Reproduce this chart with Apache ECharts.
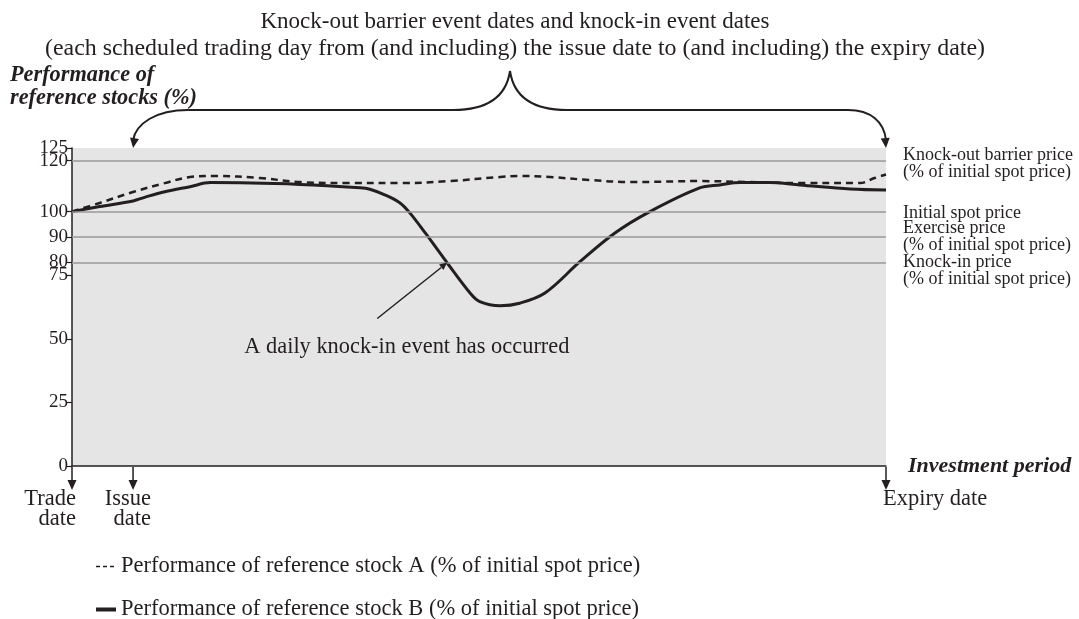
<!DOCTYPE html>
<html><head><meta charset="utf-8">
<script src="https://cdn.jsdelivr.net/npm/echarts@6/dist/echarts.min.js"></script>
<style>html,body{margin:0;padding:0;background:#fff}#c{width:1079px;height:619px}</style>
</head><body><div id="c"></div>
<script>
// ---- data ----
const titleLines = [
  'Knock-out barrier event dates and knock-in event dates',
  '(each scheduled trading day from (and including) the issue date to (and including) the expiry date)'
];
const yAxisTitle = ['Performance of', 'reference stocks (%)'];
const xAxisTitle = 'Investment period';
const yTicks = [0, 25, 50, 75, 80, 90, 100, 120];
const yTopTick = [125];
const levelValues = [120, 100, 90, 80];
const levelLabels = [
  'Knock-out barrier price\n(% of initial spot price)',
  'Initial spot price',
  'Exercise price\n(% of initial spot price)',
  'Knock-in price\n(% of initial spot price)'
];
const dateTimes = [0, 7.5, 100];
const dateLabels = ['Trade\ndate', 'Issue\ndate', 'Expiry date'];
const nameA = 'Performance of reference stock A (% of initial spot price)';
const nameB = 'Performance of reference stock B (% of initial spot price)';
const timeA = [0, 3.4, 7.5, 11.4, 14.5, 17.6, 23.1, 28, 34.2, 40.3, 46.4, 52.6, 55, 58.7, 63.6, 68.5, 77.1, 83.3, 89.4, 96.8, 98.6, 100];
const valuesA = [100, 103.4, 107.7, 111.2, 113.6, 114, 113.2, 111.6, 111.2, 111.2, 112, 113.6, 114, 113.6, 112.4, 111.6, 112, 111.6, 111.2, 111.2, 113.2, 114.6];
const timeB = [0, 3.4, 7.5, 9, 11.4, 14.5, 17, 28, 35.4, 36.6, 38.5, 40.3, 41.5, 43.4, 46.1, 48.9, 50.1, 52.6, 55, 58.1, 62.4, 66.7, 71, 77.1, 79.6, 82.1, 85.7, 89.4, 95.6, 100];
const valuesB = [100, 102, 104.2, 105.7, 107.8, 109.8, 111.4, 110.7, 109.4, 108.8, 106.5, 103.4, 99.5, 91.6, 79.8, 68, 64.6, 63, 64, 68, 80.3, 91.6, 100, 109.3, 110.5, 111.4, 111.4, 110.5, 108.9, 108.5];
const annotationText = 'A daily knock-in event has occurred';
const knockInPoint = [46.1, 80];
const braceFrom = 7.5, braceTo = 100;

// ---- chart ----
const FONT = '"Liberation Serif", "Times New Roman", serif';
const INK = '#231f20';
const zip = (xs, ys) => xs.map((x, i) => [x, ys[i]]);
const chart = echarts.init(document.getElementById('c'), null, {renderer: 'canvas'});

const yLabelStyle = {margin: 4, hideOverlap: false, fontFamily: FONT, fontSize: 19, color: INK};
chart.setOption({
  animation: false,
  backgroundColor: '#fff',
  title: {
    text: '{a|' + titleLines[0] + '}\n{b|' + titleLines[1] + '}', left: 510, top: 3, textAlign: 'center',
    textStyle: {
      fontFamily: FONT, fontWeight: 'normal', fontSize: 23, lineHeight: 27, color: INK,
      rich: {
        a: {fontFamily: FONT, fontSize: 23, lineHeight: 27, color: INK},
        b: {fontFamily: FONT, fontSize: 23.9, lineHeight: 27, color: INK}
      }
    }
  },
  grid: {left: 72, right: 193, top: 148, bottom: 153, show: true, backgroundColor: '#e5e5e5', borderWidth: 0},
  legend: {
    orient: 'vertical', left: 94, top: 555, height: 120, padding: 0, itemGap: 20, itemWidth: 20, itemHeight: 24,
    itemStyle: {opacity: 0},
    data: [
      {name: nameA, lineStyle: {type: [4, 3], width: 1.5}},
      {name: nameB, lineStyle: {width: 4}}
    ],
    textStyle: {fontFamily: FONT, fontSize: 22.5, color: INK}
  },
  xAxis: {
    type: 'value', min: 0, max: 100,
    name: xAxisTitle, nameLocation: 'end', nameGap: 22,
    nameTextStyle: {fontFamily: FONT, fontStyle: 'italic', fontWeight: 'bold', fontSize: 22, color: INK},
    axisLine: {lineStyle: {color: INK, width: 1.5}},
    axisTick: {show: false}, axisLabel: {show: false}, splitLine: {show: false}
  },
  yAxis: [
    {
      type: 'value', min: 0, max: 125,
      axisLine: {show: true, lineStyle: {color: INK, width: 1.5}},
      axisTick: {show: true, length: 5, customValues: yTicks, lineStyle: {color: INK, width: 1.2}},
      axisLabel: Object.assign({customValues: yTicks}, yLabelStyle),
      splitLine: {show: false}
    },
    {
      type: 'value', min: 0, max: 125, position: 'left', offset: 0,
      axisLine: {show: false},
      axisTick: {show: true, length: 5, customValues: yTopTick, lineStyle: {color: INK, width: 1.2}},
      axisLabel: Object.assign({customValues: yTopTick}, yLabelStyle),
      splitLine: {show: false}
    }
  ],
  series: [
    {
      name: 'levels', type: 'line', data: [], silent: true, z: 1,
      markLine: {
        silent: true, symbol: ['none', 'none'], label: {show: false},
        lineStyle: {color: '#999', width: 1.5, type: 'solid'},
        data: levelValues.map(v => ({yAxis: v}))
      }
    },
    {
      name: nameA, type: 'line', data: zip(timeA, valuesA), smooth: 0.35,
      showSymbol: false, symbol: 'none', z: 3,
      lineStyle: {color: INK, width: 2.5, type: [7, 5]}, itemStyle: {color: INK}
    },
    {
      name: nameB, type: 'line', data: zip(timeB, valuesB), smooth: 0.35,
      showSymbol: false, symbol: 'none', z: 4,
      lineStyle: {color: INK, width: 3}, itemStyle: {color: INK}
    }
  ]
});

// ---- annotations positioned from the axes ----
const P = (t, v) => chart.convertToPixel({gridIndex: 0}, [t, v]);
const [xl, yTop] = P(braceFrom, 125);
const [xr] = P(braceTo, 125);
const [x0, yBase] = P(0, 0);
const xm = 510, ym = yTop - 77, yh = yTop - 38;
const g = [];
const txt = (text, x, y, opts) => g.push({type: 'text', z: 10, style: Object.assign({
  text, x, y, fontFamily: FONT, fontSize: 22, fill: INK, textAlign: 'left', textVerticalAlign: 'middle'}, opts || {})});
const head = (x, y, dx, dy, s) => {
  const L = Math.hypot(dx, dy); const ux = dx / L, uy = dy / L; const px = -uy, py = ux;
  const bx = x - ux * s * 2.2, by = y - uy * s * 2.2;
  g.push({type: 'polygon', z: 10, shape: {points: [[x, y], [bx + px * s, by + py * s], [bx - px * s, by - py * s]]}, style: {fill: INK}});
};
const bez = (x1, y1, c1x, c1y, c2x, c2y, x2, y2) => g.push({type: 'bezierCurve', z: 10,
  shape: {x1, y1, x2, y2, cpx1: c1x, cpy1: c1y, cpx2: c2x, cpy2: c2y}, style: {stroke: INK, lineWidth: 2, fill: null}});
const seg = (x1, y1, x2, y2, w) => g.push({type: 'line', z: 10, shape: {x1, y1, x2, y2}, style: {stroke: INK, lineWidth: w || 2}});

// brace
bez(xl, yTop - 8, xl + 3, yh + 14, xl + 22, yh, xl + 55, yh);
seg(xl + 55, yh, xm - 57, yh);
bez(xm - 57, yh, xm - 25, yh, xm - 4, yh - 12, xm, ym);
bez(xm, ym, xm + 4, yh - 12, xm + 25, yh, xm + 57, yh);
seg(xm + 57, yh, xr - 38, yh);
bez(xr - 38, yh, xr - 15, yh, xr - 2, yh + 12, xr, yTop - 8);
head(xl, yTop, -0.15, 1, 4.5);
head(xr, yTop, 0.08, 1, 4.5);

// date arrows & labels
dateTimes.forEach((t, i) => {
  const [x] = P(t, 0);
  seg(x, yBase + 1, x, yBase + 15, 1.5);
  head(x, yBase + 24, 0, 1, 4.5);
  const right = i < dateTimes.length - 1;
  txt(dateLabels[i], right ? (i === 0 ? x + 4 : x + 18) : x - 3, yBase + 23,
      {textAlign: right ? 'right' : 'left', textVerticalAlign: 'top', lineHeight: 20, fontSize: 22.5});
});

// level labels on the right
const levelOffsets = [-7, 0, -10, -2];
levelValues.forEach((v, i) => {
  const [, y] = P(100, v);
  txt(levelLabels[i], xr + 17, y + levelOffsets[i] - 7, {fontSize: 18, lineHeight: 17, textVerticalAlign: 'top'});
});

// y-axis title
txt(yAxisTitle.join('\n'), 10, 64, {fontStyle: 'italic', fontWeight: 'bold', fontSize: 22.3, lineHeight: 23, textVerticalAlign: 'top'});

// knock-in annotation
const [kx, ky] = P(knockInPoint[0], knockInPoint[1]);
seg(kx - 70, ky + 56, kx - 6, ky + 5, 1.5);
head(kx, ky, 70, -56, 3.5);
txt(annotationText, kx - 203, ky + 85, {fontSize: 22.4});

chart.setOption({graphic: {elements: g}});
</script>
</body></html>
